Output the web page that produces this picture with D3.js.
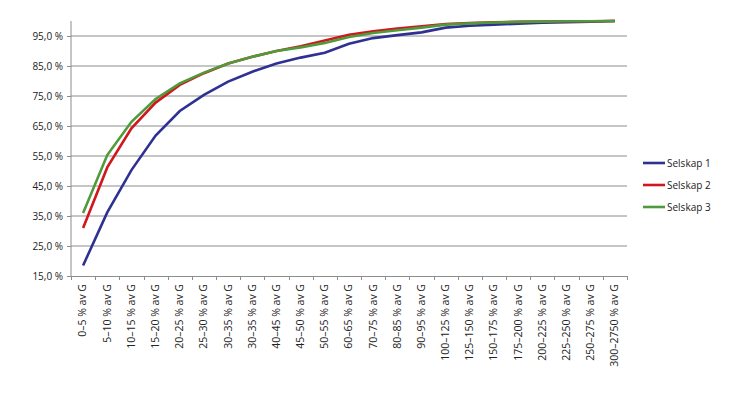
<!DOCTYPE html>
<html>
<head>
<meta charset="utf-8">
<script src="https://cdn.jsdelivr.net/npm/d3@7"></script>
<style>
  body { margin: 0; background: #fff; }
  text { font-family: "Open Sans", "Liberation Sans", sans-serif; fill: #222; }
</style>
</head>
<body>
<div id="chart"></div>
<script>
// categories along x
var categories = ["0–5 % av G", "5–10 % av G", "10–15 % av G", "15–20 % av G", "20–25 % av G",
  "25–30 % av G", "30–35 % av G", "30–35 % av G", "40–45 % av G", "45–50 % av G", "50–55 % av G",
  "60–65 % av G", "70–75 % av G", "80–85 % av G", "90–95 % av G", "100–125 % av G", "125–150 % av G",
  "150–175 % av G", "175–200 % av G", "200–225 % av G", "225–250 % av G", "250–275 % av G", "300–2750 % av G"];

var selskap1 = [18.5, 36.2, 50.3, 61.8, 70.0, 75.4, 79.8, 83.1, 85.8, 87.8, 89.4, 92.4, 94.3, 95.3, 96.2, 97.8, 98.4, 98.8, 99.1, 99.4, 99.6, 99.8, 100];
var selskap2 = [31.0, 51.2, 64.2, 72.8, 78.7, 82.6, 85.8, 88.1, 90.0, 91.6, 93.5, 95.4, 96.6, 97.5, 98.2, 99.0, 99.3, 99.6, 99.7, 99.8, 99.9, 99.9, 100];
var selskap3 = [36.0, 55.3, 66.4, 74.0, 79.2, 82.8, 85.8, 88.1, 90.0, 91.2, 92.7, 94.7, 96.0, 96.9, 97.8, 98.8, 99.2, 99.5, 99.7, 99.8, 99.9, 99.9, 100];

var seriesNames = ["Selskap 1", "Selskap 2", "Selskap 3"];
var seriesColors = ["#2e3192", "#d0161e", "#4f9a3a"];
var yTicks = [15, 25, 35, 45, 55, 65, 75, 85, 95];

var series = [selskap1, selskap2, selskap3];

var margin = {top: 21, right: 103, bottom: 120, left: 71},
    width = 730 - margin.left - margin.right,
    height = 396 - margin.top - margin.bottom;

var svg = d3.select("#chart").append("svg")
    .attr("width", 730)
    .attr("height", 396)
  .append("g")
    .attr("transform", "translate(" + margin.left + "," + margin.top + ")");

var x = d3.scaleBand()
    .domain(d3.range(categories.length))
    .range([0, width]);

var y = d3.scaleLinear()
    .domain([15, 100])
    .range([height, 0]);

// gridlines
svg.selectAll(".grid")
    .data(yTicks.slice(1))
  .enter().append("line")
    .attr("x1", 0)
    .attr("x2", width)
    .attr("y1", function(d) { return y(d); })
    .attr("y2", function(d) { return y(d); })
    .style("stroke", "#8c8c8c")
    .style("stroke-width", 1);

// y axis
var fmt = function(d) { return d.toFixed(1).replace(".", ",") + " %"; };
var yAxis = svg.append("g")
    .call(d3.axisLeft(y).tickValues(yTicks).tickFormat(fmt).tickSize(4).tickPadding(4));
yAxis.select(".domain").style("stroke", "#8c8c8c").attr("d", "M0," + height + "V0");
yAxis.selectAll(".tick line").style("stroke", "#8c8c8c");
yAxis.selectAll("text").style("font-size", "10px").attr("fill", "#222");

// x axis
var xAxis = svg.append("g")
    .attr("transform", "translate(0," + height + ")")
    .call(d3.axisBottom(x).tickFormat(function(i) { return categories[i]; }).tickSize(0).tickPadding(8));
xAxis.select(".domain").style("stroke", "#8c8c8c");
xAxis.selectAll("text")
    .style("font-size", "10.5px")
    .attr("fill", "#222")
    .style("text-anchor", "end")
    .attr("dx", "-8px")
    .attr("dy", "0.32em")
    .attr("y", 0)
    .attr("transform", "rotate(-90)");

// tick marks at band boundaries
svg.selectAll(".xtick")
    .data(d3.range(categories.length + 1))
  .enter().append("line")
    .attr("x1", function(i) { return Math.round(i * x.step()) + 0.5; })
    .attr("x2", function(i) { return Math.round(i * x.step()) + 0.5; })
    .attr("y1", height)
    .attr("y2", height + 4)
    .style("stroke", "#8c8c8c");

// lines
var line = d3.line()
    .x(function(d, i) { return x(i) + x.bandwidth() / 2; })
    .y(function(d) { return y(d); });

svg.selectAll(".series")
    .data(series)
  .enter().append("path")
    .attr("d", line)
    .style("fill", "none")
    .style("stroke", function(d, i) { return seriesColors[i]; })
    .style("stroke-width", 2.6);

// legend
var legend = svg.selectAll(".legend")
    .data(seriesNames)
  .enter().append("g")
    .attr("transform", function(d, i) { return "translate(" + (width + 16) + "," + (142 + i * 22) + ")"; });

legend.append("line")
    .attr("x1", 0)
    .attr("x2", 22)
    .style("stroke", function(d, i) { return seriesColors[i]; })
    .style("stroke-width", 2.6);

legend.append("text")
    .attr("x", 24)
    .attr("dy", "0.35em")
    .style("font-size", "10px")
    .text(function(d) { return d; });
</script>
</body>
</html>
